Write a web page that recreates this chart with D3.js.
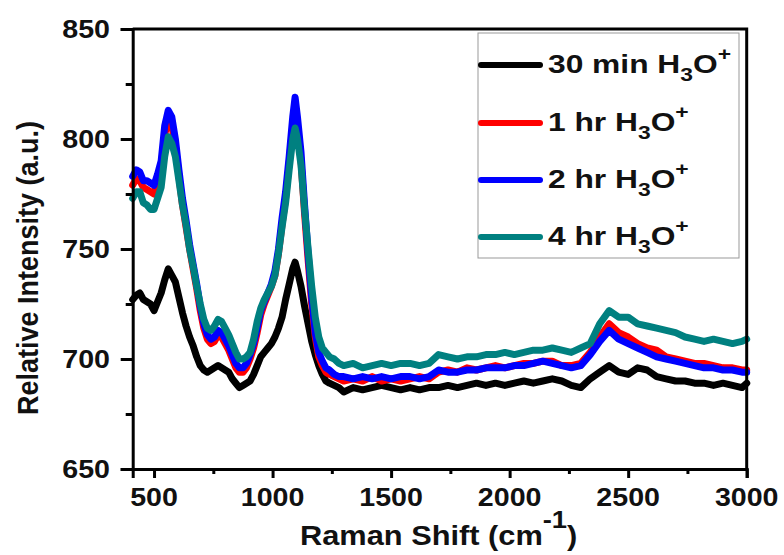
<!DOCTYPE html>
<html>
<head>
<meta charset="utf-8">
<script src="https://cdn.jsdelivr.net/npm/d3@7"></script>
<style>
body { margin: 0; background: #fff; }
text { font-family: "Liberation Sans", Arial, sans-serif; font-weight: bold; fill: #111; }
</style>
</head>
<body>
<script>
// Raman shift (cm-1) shared by all four spectra
var shift = [410,425,440,455,470,485,500,515,530,545,
    560,575,590,605,620,635,650,665,680,695,
    710,725,740,755,770,785,800,815,830,845,
    860,875,890,905,920,935,950,965,980,995,
    1010,1025,1040,1055,1070,1085,1095,1105,1120,1135,
    1150,1165,1180,1195,1210,1225,1240,1260,1280,
    1300,1340,1380,1420,1460,1500,1540,1580,1620,1660,
    1700,1740,1780,1820,1860,1900,1940,1980,2020,2060,
    2100,2140,2180,2220,2260,2300,2340,2380,2420,2460,
    2500,2540,2580,2620,2660,2700,2740,2780,2820,2860,
    2900,2940,2980,3000];

var min30 = [727,729,730,727,726,725,722,726,730,736,
    741,738,735,728,721,715,710,706,701,697,
    695,694,695,696,697,696,695,694,691,689,
    687,688,689,690,693,697,701,703,705,707,
    710,714,719,727,734,741,744,740,733,724,
    716,708,702,697,693,690,689,688,687,
    685,687,686,687,688,687,686,687,686,687,
    687,688,687,688,689,688,689,688,689,690,
    689,690,691,690,688,687,691,694,697,694,
    693,696,695,692,691,690,690,689,689,688,
    689,688,687,689];

var hr1 = [779,782,781,778,777,776,775,781,787,802,
    809,806,797,783,770,760,750,741,732,722,
    714,709,707,708,711,710,707,704,700,696,
    694,694,696,700,705,712,720,725,729,733,
    738,748,761,773,789,806,813,806,790,766,
    745,725,710,701,697,694,693,692,691,
    690,691,690,692,690,691,690,691,692,691,
    694,695,694,696,695,696,697,696,697,698,
    698,699,699,697,697,698,703,710,716,712,
    710,707,705,704,701,700,699,698,698,697,
    696,696,695,695];

var hr2 = [783,786,785,781,781,780,779,784,790,806,
    813,810,800,786,773,763,752,743,734,724,
    716,711,709,710,713,712,709,706,702,698,
    696,696,698,702,707,714,722,726,730,734,
    740,750,764,776,792,810,819,810,794,770,
    748,728,712,703,699,696,695,693,692,
    692,691,692,691,692,691,692,692,691,692,
    695,694,694,695,695,696,696,696,697,697,
    698,699,698,697,696,697,702,708,713,709,
    707,705,703,701,700,699,698,697,696,696,
    695,695,694,694];

var hr4 = [773,776,776,771,770,768,768,773,778,792,
    801,798,792,781,770,761,750,742,733,725,
    718,714,713,715,718,717,714,711,707,703,
    700,700,701,703,709,717,723,727,730,733,
    738,748,760,771,786,800,805,800,788,768,
    750,733,719,710,705,703,701,700,698,
    697,698,696,697,698,697,698,698,697,698,
    702,701,700,701,701,702,702,703,702,703,
    704,704,705,704,703,705,707,716,722,719,
    719,716,715,714,713,712,710,709,708,709,
    708,707,708,709];

var seriesNames = ["30 min", "1 hr", "2 hr", "4 hr"];
var seriesColors = ["#000000", "#ff0000", "#0000ff", "#008080"];
var xTicks = [500, 1000, 1500, 2000, 2500, 3000];
var xMinor = [750, 1250, 1750, 2250, 2750];
var yTicks = [650, 700, 750, 800, 850];
var yMinor = [675, 725, 775, 825];

var W = 784, H = 555;
var plotL = 132.7, plotR = 746.7, plotT = 29, plotB = 469;

var svg = d3.select("body").append("svg")
    .attr("width", W).attr("height", H);

var x = d3.scaleLinear().domain([410, 3000]).range([plotL, plotR]);
var y = d3.scaleLinear().domain([650, 850]).range([plotB, plotT]);

var series = [min30, hr1, hr2, hr4];

var line = d3.line()
    .x(function (d, i) { return x(shift[i]); })
    .y(function (d) { return y(d); });

svg.selectAll("path.spec")
    .data(series)
    .enter().append("path")
    .attr("class", "spec")
    .attr("d", line)
    .attr("fill", "none")
    .attr("stroke", function (d, i) { return seriesColors[i]; })
    .attr("stroke-width", 7)
    .attr("stroke-linejoin", "round")
    .attr("stroke-linecap", "round");

// axes: ticks only, labels drawn by hand (stretched like the picture)
var gx = svg.append("g").attr("transform", "translate(0," + plotB + ")")
    .call(d3.axisBottom(x).tickValues(xTicks).tickSize(9).tickFormat(""));
var gxm = svg.append("g").attr("transform", "translate(0," + plotB + ")")
    .call(d3.axisBottom(x).tickValues(xMinor).tickSize(5).tickFormat(""));
var gy = svg.append("g").attr("transform", "translate(" + plotL + ",0)")
    .call(d3.axisLeft(y).tickValues(yTicks).tickSize(12).tickFormat(""));
var gym = svg.append("g").attr("transform", "translate(" + plotL + ",0)")
    .call(d3.axisLeft(y).tickValues(yMinor).tickSize(7).tickFormat(""));

svg.selectAll(".domain").attr("stroke", "#000").attr("stroke-width", 3);
svg.selectAll(".tick line").attr("stroke", "#000").attr("stroke-width", 3);
gxm.select(".domain").remove();
gym.select(".domain").remove();

// top and right frame
svg.append("path")
    .attr("d", "M" + plotL + "," + plotT + "H" + plotR + "V" + plotB)
    .attr("fill", "none").attr("stroke", "#000").attr("stroke-width", 3);

svg.selectAll("text.xl")
    .data(xTicks)
    .enter().append("text")
    .attr("class", "xl")
    .attr("text-anchor", "middle")
    .attr("font-size", 26)
    .attr("transform", function (d) { return "translate(" + x(d) + ",506) scale(1.1,1)"; })
    .text(function (d) { return d; });

svg.selectAll("text.yl")
    .data(yTicks)
    .enter().append("text")
    .attr("class", "yl")
    .attr("text-anchor", "end")
    .attr("font-size", 26)
    .attr("transform", function (d) { return "translate(110," + (y(d) + 9) + ") scale(1.1,1)"; })
    .text(function (d) { return d; });

// axis titles
var xt = svg.append("text")
    .attr("font-size", 27)
    .attr("transform", "translate(300,545) scale(1.14,1)");
xt.append("tspan").text("Raman Shift (cm");
xt.append("tspan").attr("dy", -17).attr("font-size", 24).text("-1");
xt.append("tspan").attr("dy", 17).text(")");

svg.append("text")
    .attr("font-size", 27)
    .attr("text-anchor", "middle")
    .attr("transform", "translate(38,268) scale(1.12,1) rotate(-90)")
    .text("Relative Intensity (a.u.)");

// legend
svg.append("rect")
    .attr("x", 478).attr("y", 33).attr("width", 261).attr("height", 225)
    .attr("fill", "#fff").attr("stroke", "#999").attr("stroke-width", 1);

var legY = [65, 123, 180, 237];
var leg = svg.selectAll("g.leg")
    .data(seriesNames)
    .enter().append("g")
    .attr("class", "leg")
    .attr("transform", function (d, i) { return "translate(0," + legY[i] + ")"; });

leg.append("line")
    .attr("x1", 481).attr("x2", 540)
    .attr("stroke", function (d, i) { return seriesColors[i]; })
    .attr("stroke-width", 6)
    .attr("stroke-linecap", "round");

var lt = leg.append("text")
    .attr("font-size", 25)
    .attr("transform", "translate(548,8) scale(1.27,1)");
lt.append("tspan").text(function (d) { return d + " H"; });
lt.append("tspan").attr("dy", 8).attr("font-size", 18).text("3");
lt.append("tspan").attr("dy", -8).text("O");
lt.append("tspan").attr("dy", -13).attr("font-size", 18).text("+");
</script>
</body>
</html>
